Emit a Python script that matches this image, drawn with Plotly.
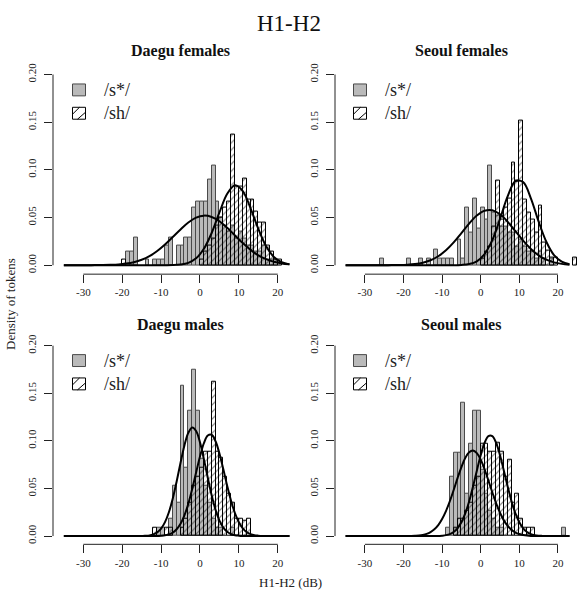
import plotly.graph_objects as go

# ---------------- data ----------------
TITLE = "H1-H2"
PANEL_TITLES = ["Daegu females", "Seoul females", "Daegu males", "Seoul males"]
SERIES = ["/s*/", "/sh/"]
X_TICKS = [-30, -20, -10, 0, 10, 20]
X_TICK_TEXT = ["-30", "-20", "-10", "0", "10", "20"]
Y_TICKS = [0.0, 0.05, 0.10, 0.15, 0.20]
Y_TICK_TEXT = ["0.00", "0.05", "0.10", "0.15", "0.20"]
X_LABEL = "H1-H2 (dB)"
Y_LABEL = "Density of tokens"

# histogram bins (left edge, 1 dB wide) and densities
DF_s_bins = [-19, -18, -17, -14, -12, -11, -10, -9, -8, -6, -5, -4, -3, -2, -1,
             0, 1, 2, 3, 4, 5, 6, 7, 8, 9, 10, 11, 12, 13, 14, 15, 16, 17, 18, 19]
DF_s_dens = [0.014, 0.014, 0.029, 0.006, 0.006, 0.006, 0.006, 0.021, 0.029, 0.021, 0.021, 0.029, 0.029, 0.060, 0.067,
             0.067, 0.067, 0.090, 0.105, 0.067, 0.050, 0.042, 0.035, 0.042, 0.028, 0.035, 0.028, 0.021, 0.021, 0.014,
             0.014, 0.021, 0.006, 0.006, 0.006]
DF_sh_bins = [-20, 0, 1, 2, 3, 4, 5, 6, 7, 8, 9, 10, 11, 12, 13, 14, 15, 16, 17, 18, 19, 20]
DF_sh_dens = [0.006, 0.006, 0.014, 0.021, 0.028, 0.042, 0.050, 0.060, 0.067, 0.137, 0.082, 0.082, 0.091, 0.069,
              0.069, 0.056, 0.045, 0.045, 0.021, 0.014, 0.006, 0.006]

SF_s_bins = [-26, -19, -16, -14, -12, -11, -10, -9, -8, -6, -5, -4, -3, -2, -1,
             0, 1, 2, 3, 4, 5, 6, 7, 8, 9, 10, 11, 12, 13, 14, 15, 16, 18]
SF_s_dens = [0.007, 0.007, 0.007, 0.007, 0.016, 0.007, 0.007, 0.007, 0.007, 0.027, 0.007, 0.060, 0.034, 0.070, 0.038,
             0.060, 0.048, 0.105, 0.055, 0.052, 0.041, 0.041, 0.034, 0.034, 0.020, 0.027, 0.020, 0.014, 0.014, 0.007,
             0.014, 0.007, 0.007]
SF_sh_bins = [0, 1, 2, 3, 4, 5, 6, 7, 8, 9, 10, 11, 12, 13, 14, 15, 16, 17, 18, 19, 24]
SF_sh_dens = [0.007, 0.014, 0.020, 0.041, 0.089, 0.048, 0.060, 0.070, 0.108, 0.089, 0.152, 0.069, 0.055, 0.048,
              0.034, 0.063, 0.024, 0.015, 0.008, 0.008, 0.008]

DM_s_bins = [-11, -10, -8, -7, -6, -5, -4, -3, -2, -1, 0, 1, 2, 3, 4, 5, 8]
DM_s_dens = [0.009, 0.009, 0.018, 0.053, 0.035, 0.158, 0.072, 0.132, 0.175, 0.132, 0.081, 0.053, 0.035, 0.018,
             0.009, 0.009, 0.009]
DM_sh_bins = [-12, -9, -8, -5, -4, -3, -2, -1, 0, 1, 2, 3, 4, 5, 6, 7, 8, 9, 10, 11, 12]
DM_sh_dens = [0.009, 0.009, 0.009, 0.009, 0.018, 0.035, 0.053, 0.062, 0.072, 0.089, 0.089, 0.162, 0.089, 0.082,
              0.062, 0.044, 0.035, 0.018, 0.018, 0.016, 0.018]

SM_s_bins = [-9, -8, -7, -6, -5, -4, -3, -2, -1, 0, 1, 2, 3, 4, 5, 21]
SM_s_dens = [0.009, 0.062, 0.088, 0.088, 0.140, 0.045, 0.097, 0.132, 0.132, 0.070, 0.045, 0.027, 0.018, 0.009,
             0.009, 0.009]
SM_sh_bins = [-7, -6, -5, -4, -3, -2, -1, 0, 1, 2, 3, 4, 5, 6, 7, 8, 9, 10, 11, 12, 13]
SM_sh_dens = [0.009, 0.018, 0.018, 0.027, 0.035, 0.053, 0.062, 0.097, 0.097, 0.089, 0.089, 0.098, 0.089, 0.062,
              0.080, 0.035, 0.045, 0.018, 0.009, 0.009, 0.009]

# density curves
F_curve_x = [-35, -33, -31, -29, -27, -25, -23, -21, -19, -17, -15, -13, -11, -9, -7, -5, -3, -1,
             1, 3, 5, 7, 9, 11, 13, 15, 17, 19, 21, 23]
DF_s_curve = [0, 0, 0, 0, 0.0001, 0.0002, 0.0004, 0.0008, 0.0017, 0.0032, 0.0057, 0.0095, 0.0149, 0.0217,
              0.0296, 0.0375, 0.0448, 0.0499, 0.0520, 0.0506, 0.0461, 0.0392, 0.0312, 0.0232, 0.0161, 0.0104,
              0.0064, 0.0036, 0.0019, 0.0009]
DF_sh_curve = [0, 0, 0, 0, 0, 0, 0, 0, 0, 0, 0, 0, 0, 0, 0.0001, 0.0007, 0.0025, 0.0072, 0.0172, 0.0338,
               0.0553, 0.0749, 0.0839, 0.0778, 0.0597, 0.0380, 0.0198, 0.0087, 0.0031, 0.0009]
SF_s_curve = [0, 0, 0, 0, 0, 0, 0.0001, 0.0002, 0.0005, 0.0012, 0.0026, 0.0052, 0.0094, 0.0156, 0.0239,
              0.0337, 0.0437, 0.0521, 0.0571, 0.0576, 0.0534, 0.0455, 0.0357, 0.0257, 0.0170, 0.0104, 0.0058,
              0.0030, 0.0014, 0.0006]
SF_sh_curve = [0, 0, 0, 0, 0, 0, 0, 0, 0, 0, 0, 0, 0, 0, 0, 0.0003, 0.0012, 0.0041, 0.0117, 0.0263, 0.0485,
               0.0724, 0.0881, 0.0872, 0.0702, 0.0459, 0.0246, 0.0106, 0.0038, 0.0011]

M_curve_x = [-35, -30, -25, -20, -18, -17, -16, -15, -14, -13, -12, -11, -10, -9, -8, -7, -6, -5, -4, -3, -2,
             -1, 0, 1, 2, 3, 4, 5, 6, 7, 8, 9, 10, 11, 12, 13, 14, 15, 16, 17, 18, 20, 23]
DM_s_curve = [0, 0, 0, 0, 0, 0, 0, 0, 0.0003, 0.0007, 0.0018, 0.0039, 0.0078, 0.0146, 0.0250, 0.0395, 0.0574,
              0.0770, 0.0952, 0.1085, 0.1140, 0.1103, 0.0984, 0.0808, 0.0613, 0.0428, 0.0275, 0.0163, 0.0089,
              0.0045, 0.0021, 0.0009, 0.0004, 0.0001, 0, 0, 0, 0, 0, 0, 0, 0, 0]
DM_sh_curve = [0, 0, 0, 0, 0, 0, 0, 0, 0, 0, 0, 0, 0.0003, 0.0008, 0.0018, 0.0037, 0.0072, 0.0130, 0.0218,
               0.0340, 0.0494, 0.0667, 0.0836, 0.0975, 0.1056, 0.1064, 0.0996, 0.0867, 0.0701, 0.0527, 0.0369,
               0.0240, 0.0145, 0.0081, 0.0042, 0.0021, 0.0009, 0.0004, 0.0001, 0, 0, 0, 0]
SM_s_curve = [0, 0, 0, 0, 0.0001, 0.0003, 0.0006, 0.0012, 0.0023, 0.0042, 0.0072, 0.0116, 0.0180, 0.0263,
              0.0366, 0.0484, 0.0608, 0.0724, 0.0820, 0.0881, 0.0900, 0.0872, 0.0803, 0.0702, 0.0583, 0.0460,
              0.0344, 0.0245, 0.0165, 0.0106, 0.0065, 0.0037, 0.0021, 0.0011, 0.0005, 0.0002, 0.0001, 0, 0, 0,
              0, 0, 0]
SM_sh_curve = [0, 0, 0, 0, 0, 0, 0, 0, 0, 0, 0, 0, 0.0004, 0.0010, 0.0021, 0.0043, 0.0082, 0.0145, 0.0238,
               0.0364, 0.0518, 0.0687, 0.0850, 0.0979, 0.1050, 0.1050, 0.0979, 0.0850, 0.0687, 0.0518, 0.0364,
               0.0238, 0.0145, 0.0082, 0.0043, 0.0021, 0.0010, 0.0004, 0.0002, 0.0001, 0, 0, 0]

panels_data = [
    (DF_s_bins, DF_s_dens, DF_sh_bins, DF_sh_dens, F_curve_x, DF_s_curve, DF_sh_curve),
    (SF_s_bins, SF_s_dens, SF_sh_bins, SF_sh_dens, F_curve_x, SF_s_curve, SF_sh_curve),
    (DM_s_bins, DM_s_dens, DM_sh_bins, DM_sh_dens, M_curve_x, DM_s_curve, DM_sh_curve),
    (SM_s_bins, SM_s_dens, SM_sh_bins, SM_sh_dens, M_curve_x, SM_s_curve, SM_sh_curve),
]

# ---------------- geometry / style ----------------
W, H = 578, 591
FONT = "Liberation Serif, Times New Roman, serif"
GREY = "#bababa"
GREY_EDGE = "#4a4a4a"


def fx(p):
    return p / W


def fy(p):
    return 1 - p / H


# pixel geometry of each panel: (left, right, top, bottom) and axis ranges
geo = [
    dict(l=53, r=307, t=63, b=272, xr=[-37.79, 27.51], yr=[-0.009375, 0.20833]),
    dict(l=335, r=578, t=63, b=272, xr=[-37.75, 25.21], yr=[-0.009375, 0.20833]),
    dict(l=53, r=307, t=336, b=544, xr=[-37.79, 27.51], yr=[-0.00866, 0.20835]),
    dict(l=335, r=578, t=336, b=544, xr=[-37.75, 25.21], yr=[-0.00866, 0.20835]),
]
title_pos = [(180, 47), (461, 47), (180, 323), (461, 323)]
legend_off = [(0, 0), (281, 0), (0, 272.5), (281, 272.5)]

fig = go.Figure()
shapes = []
annotations = []

for i, (sb, sd, hb, hd, cx, cs, ch) in enumerate(panels_data):
    n = "" if i == 0 else str(i + 1)
    xa, ya = "x" + n, "y" + n
    fig.add_trace(go.Bar(x=sb, y=sd, width=1, offset=0, xaxis=xa, yaxis=ya,
                         marker=dict(color=GREY, line=dict(color=GREY_EDGE, width=1)),
                         showlegend=False, name=SERIES[0]))
    fig.add_trace(go.Bar(x=hb, y=hd, width=1, offset=0, xaxis=xa, yaxis=ya,
                         marker=dict(color="rgba(0,0,0,0)", line=dict(color="black", width=1),
                                     pattern=dict(shape="/", fgcolor="#111", size=5, solidity=0.24,
                                                  fillmode="overlay")),
                         showlegend=False, name=SERIES[1]))
    for cy in (cs, ch):
        fig.add_trace(go.Scatter(x=cx, y=cy, mode="lines", xaxis=xa, yaxis=ya,
                                 line=dict(color="black", width=2, shape="spline", smoothing=1.0),
                                 showlegend=False, hoverinfo="skip"))
    g = geo[i]
    fig.layout["xaxis" + n] = dict(domain=[fx(g["l"]), fx(g["r"])], range=g["xr"], anchor=ya,
                                   showgrid=False, zeroline=False, showline=False,
                                   ticks="outside", ticklen=8, tickwidth=1, tickcolor="#222",
                                   tickvals=X_TICKS, ticktext=X_TICK_TEXT,
                                   tickfont=dict(family=FONT, size=11, color="#222"))
    fig.layout["yaxis" + n] = dict(domain=[fy(g["b"]), fy(g["t"])], range=g["yr"], anchor=xa,
                                   showgrid=False, zeroline=False, showline=False,
                                   ticks="outside", ticklen=8, tickwidth=1, tickcolor="#222",
                                   tickvals=Y_TICKS, ticktext=Y_TICK_TEXT, tickangle=-90,
                                   ticklabelstandoff=4,
                                   tickfont=dict(family=FONT, size=11, color="#222"))
    # R-style axis lines spanning first..last tick
    shapes.append(dict(type="line", xref=xa, yref=ya + " domain", x0=X_TICKS[0], x1=X_TICKS[-1],
                       y0=0, y1=0, line=dict(color="#222", width=1)))
    shapes.append(dict(type="line", xref=xa + " domain", yref=ya, x0=0, x1=0,
                       y0=Y_TICKS[0], y1=Y_TICKS[-1], line=dict(color="#222", width=1)))
    # panel title
    tx, ty = title_pos[i]
    annotations.append(dict(text="<b>" + PANEL_TITLES[i] + "</b>", x=fx(tx), y=fy(ty), xref="paper",
                            yref="paper", showarrow=False, xanchor="center", yanchor="middle",
                            font=dict(family=FONT, size=16, color="#111")))
    # legend (drawn manually)
    ox, oy = legend_off[i]
    x0, x1 = 72.5 + ox, 85.5 + ox
    t0, b0 = 80.5 + oy, 92.5 + oy
    shapes.append(dict(type="rect", xref="paper", yref="paper", x0=fx(x0), x1=fx(x1), y0=fy(b0), y1=fy(t0),
                       fillcolor=GREY, line=dict(color=GREY_EDGE, width=1)))
    t1, b1 = 104 + oy, 116 + oy
    shapes.append(dict(type="rect", xref="paper", yref="paper", x0=fx(x0), x1=fx(x1), y0=fy(b1), y1=fy(t1),
                       fillcolor="white", line=dict(color="black", width=1)))
    for (ax, ay, bx, by) in [(x0, t1 + 7, x0 + 7, t1), (x0 + 5, b1, x1, t1 + 5)]:
        shapes.append(dict(type="line", xref="paper", yref="paper", x0=fx(ax), y0=fy(ay), x1=fx(bx),
                           y1=fy(by), line=dict(color="black", width=1)))
    for k, (yy) in enumerate([86.5 + oy, 110 + oy]):
        annotations.append(dict(text=SERIES[k], x=fx(102 + ox), y=fy(yy), xref="paper", yref="paper",
                                showarrow=False, xanchor="left", yanchor="middle",
                                font=dict(family=FONT, size=18, color="#222")))

annotations.append(dict(text=TITLE, x=0.5, y=fy(20), xref="paper", yref="paper", showarrow=False,
                        xanchor="center", yanchor="middle", font=dict(family=FONT, size=23, color="#111")))
annotations.append(dict(text=X_LABEL, x=fx(290), y=fy(582), xref="paper", yref="paper", showarrow=False,
                        xanchor="center", yanchor="middle", font=dict(family=FONT, size=13, color="#222")))
annotations.append(dict(text=Y_LABEL, x=fx(11), y=fy(302), xref="paper", yref="paper", showarrow=False,
                        xanchor="center", yanchor="middle", textangle=-90,
                        font=dict(family=FONT, size=13, color="#222")))

fig.update_layout(width=W, height=H, margin=dict(l=0, r=0, t=0, b=0), barmode="overlay", bargap=0,
                  paper_bgcolor="white", plot_bgcolor="white", shapes=shapes, annotations=annotations,
                  showlegend=False)

fig.write_html("out.html", config={"displayModeBar": False},
               post_script="document.body.style.margin='0px';document.body.style.overflow='hidden';")
